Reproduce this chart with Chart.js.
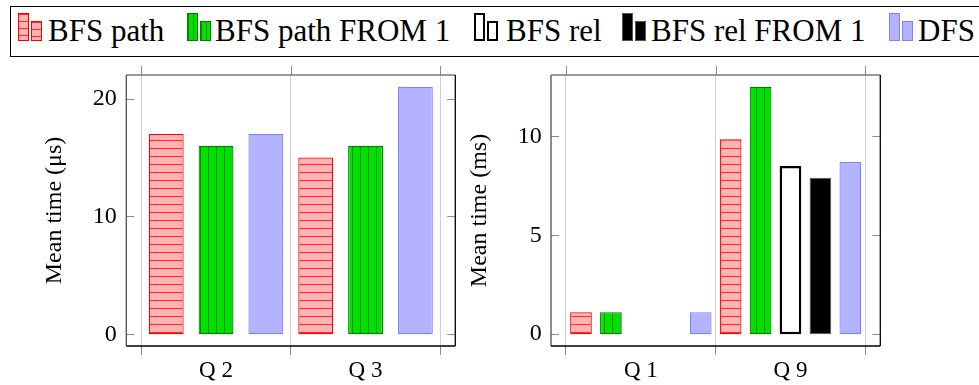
<!DOCTYPE html>
<html>
<head>
<meta charset="utf-8">
<title>Mean query time</title>
<script src="https://cdn.jsdelivr.net/npm/chart.js@4.4.1/dist/chart.umd.min.js"></script>
<style>
  html, body { margin: 0; padding: 0; background: #fff; }
  #page { position: relative; width: 979px; height: 385px; overflow: hidden;
          font-family: "Liberation Serif", "Times New Roman", serif; }
  #legendBox { position: absolute; left: 10px; top: 6px; width: 1100px; height: 51px;
               box-sizing: border-box; border: 1.4px solid #000; }
  .swatch { position: absolute; box-sizing: border-box; }
  .label { position: absolute; top: 15px; font-size: 31px; line-height: 31px;
           white-space: nowrap; color: #000; }
  #leftBox { position: absolute; left: 0; top: 60px; width: 460px; height: 325px; }
  #rightBox { position: absolute; left: 460px; top: 60px; width: 519px; height: 325px; }
</style>
</head>
<body>
<div id="page">
  <div id="legendBox"></div>
  <div id="leftBox"><canvas id="usChart"></canvas></div>
  <div id="rightBox"><canvas id="msChart"></canvas></div>
</div>
<script>
const seriesNames = ['BFS path', 'BFS path FROM 1', 'BFS rel', 'BFS rel FROM 1', 'DFS'];

// Q2 / Q3, mean time in microseconds
const usCategories = ['Q 2', 'Q 3'];
const usBfsPath = [17, 15];
const usBfsPathFrom1 = [16, 16];
const usDfs = [17, 21];
const usTicks = [0, 10, 20];

// Q1 / Q9, mean time in milliseconds
const msCategories = ['Q 1', 'Q 9'];
const msBfsPath = [1.1, 9.85];
const msBfsPathFrom1 = [1.1, 12.5];
const msBfsRel = [null, 8.5];
const msBfsRelFrom1 = [null, 7.9];
const msDfs = [1.1, 8.7];
const msTicks = [0, 5, 10];

const SERIF = 'Liberation Serif';
Chart.defaults.font.family = SERIF;

// small tile used as a hatched fill
function hatch(bg, line, vertical) {
  const c = document.createElement('canvas');
  c.width = 8; c.height = 8;
  const g = c.getContext('2d');
  g.fillStyle = bg;
  g.fillRect(0, 0, 8, 8);
  g.fillStyle = line;
  if (vertical) g.fillRect(0, 0, 1, 8); else g.fillRect(0, 0, 8, 1);
  return g.createPattern(c, 'repeat');
}

const styles = {
  'BFS path':        { backgroundColor: hatch('#ffb3b3', '#ff2a2a', false), borderColor: '#ff0000', borderWidth: 1.2,
                       css: 'repeating-linear-gradient(to bottom, #ff2a2a 0 1px, #ffb3b3 1px 7px)' },
  'BFS path FROM 1': { backgroundColor: hatch('#00e100', '#009000', true), borderColor: '#008000', borderWidth: 1.2,
                       css: 'repeating-linear-gradient(to right, #009000 0 1px, #00e100 1px 5px)' },
  'BFS rel':         { backgroundColor: '#ffffff', borderColor: '#000000', borderWidth: 2.5, css: '#ffffff' },
  'BFS rel FROM 1':  { backgroundColor: '#000000', borderColor: '#555555', borderWidth: 1, css: '#000000' },
  'DFS':             { backgroundColor: '#b3b3ff', borderColor: '#7f7fff', borderWidth: 1.2, css: '#b3b3ff' }
};

// legend: two-bar swatch + label per series
const legendIconX = [18, 187, 474, 622, 889];
const legendTextX = [48, 215, 506, 651, 918];
const page = document.getElementById('page');
seriesNames.forEach((name, i) => {
  const st = styles[name];
  [[0, 13], [12.5, 20.5]].forEach(([dx, top]) => {
    const b = document.createElement('div');
    b.className = 'swatch';
    b.style.left = (legendIconX[i] + dx) + 'px';
    b.style.top = top + 'px';
    b.style.width = '11px';
    b.style.height = (41 - top) + 'px';
    b.style.background = st.css;
    b.style.border = (st.borderWidth > 2 ? 2.5 : 1) + 'px solid ' + st.borderColor;
    page.appendChild(b);
  });
  const t = document.createElement('div');
  t.className = 'label';
  t.style.left = legendTextX[i] + 'px';
  t.textContent = name;
  page.appendChild(t);
});

// axis box, inner y ticks and top x ticks in pgfplots style
const framePlugin = {
  id: 'frame',
  afterDraw(chart) {
    const { ctx, chartArea: a, scales: { x, y } } = chart;
    const l = a.left - 15, r = a.right + 15, t = a.top, b = a.bottom;
    ctx.save();
    ctx.lineWidth = 1;
    ctx.strokeStyle = '#8c8c8c';
    ctx.beginPath();
    y.ticks.forEach(tk => {
      const py = Math.round(y.getPixelForValue(tk.value)) + 0.5;
      ctx.moveTo(l, py); ctx.lineTo(l + 8, py);
      ctx.moveTo(r, py); ctx.lineTo(r - 8, py);
    });
    for (let i = 0; i <= x.ticks.length; i++) {
      const px = Math.round(x.getPixelForValue(i - 0.5)) + 0.5;
      ctx.moveTo(px, t - 9); ctx.lineTo(px, t);
    }
    ctx.stroke();
    ctx.lineWidth = 1.3;
    const side = (c, x1, y1, x2, y2) => {
      ctx.strokeStyle = c; ctx.beginPath(); ctx.moveTo(x1, y1); ctx.lineTo(x2, y2); ctx.stroke();
    };
    side('#777777', l, t, r, t);
    side('#4d4d4d', l, t, l, b);
    side('#000000', l, b, r, b);
    side('#000000', r, t, r, b);
    ctx.restore();
  }
};

function makeChart(id, categories, series, ticks, title, yMin, yMax, opt) {
  return new Chart(document.getElementById(id), {
    type: 'bar',
    data: {
      labels: categories,
      datasets: series.map(([name, values]) => ({
        label: name,
        data: values,
        backgroundColor: styles[name].backgroundColor,
        borderColor: styles[name].borderColor,
        borderWidth: styles[name].borderWidth,
        borderSkipped: false
      }))
    },
    options: {
      responsive: true,
      maintainAspectRatio: false,
      animation: false,
      layout: { padding: { top: 15, right: opt.rightPad, bottom: 0, left: 0 } },
      plugins: { legend: { display: false }, tooltip: { enabled: false } },
      datasets: { bar: { barPercentage: opt.barPct, categoryPercentage: 1 } },
      scales: {
        x: {
          offset: true,
          grid: { offset: true, color: '#cfcfcf', tickColor: '#8c8c8c', tickLength: 9, lineWidth: 1 },
          border: { display: false },
          ticks: { color: '#000', font: { family: SERIF, size: 23 }, padding: 2, maxRotation: 0 },
          afterFit: s => { s.height = 39; s.paddingLeft = 0; s.paddingRight = 0; }
        },
        y: {
          min: yMin,
          max: yMax,
          grid: { display: false, drawTicks: false },
          border: { display: false },
          afterBuildTicks: s => { s.ticks = ticks.map(v => ({ value: v })); },
          ticks: { color: '#000', font: { family: SERIF, size: 24 }, padding: opt.tickPad },
          title: { display: true, text: title, color: '#000', font: { family: SERIF, size: 24 },
                   padding: { top: opt.titlePad, bottom: 0 } },
          afterFit: s => { s.width = opt.yWidth; s.paddingTop = 0; s.paddingBottom = 0; }
        }
      }
    },
    plugins: [framePlugin]
  });
}

makeChart('usChart', usCategories,
  [['BFS path', usBfsPath], ['BFS path FROM 1', usBfsPathFrom1], ['DFS', usDfs]],
  usTicks, 'Mean time (\u03bcs)', -1, 22,
  { rightPad: 19.7, yWidth: 141.3, tickPad: 24.6, titlePad: 40.6, barPct: 0.7 });

makeChart('msChart', msCategories,
  [['BFS path', msBfsPath], ['BFS path FROM 1', msBfsPathFrom1], ['BFS rel', msBfsRel],
   ['BFS rel FROM 1', msBfsRelFrom1], ['DFS', msDfs]],
  msTicks, 'Mean time (ms)', -0.6, 13.1,
  { rightPad: 113.7, yWidth: 106, tickPad: 24.3, titlePad: 5.6, barPct: 0.725 });
</script>
</body>
</html>
